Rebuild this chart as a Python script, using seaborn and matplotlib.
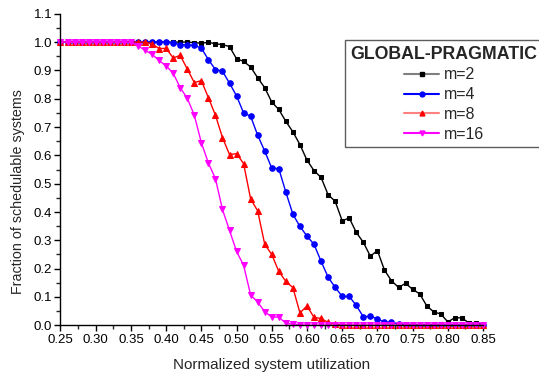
import numpy as np
import pandas as pd
import matplotlib
matplotlib.use("Agg")
import matplotlib.pyplot as plt
from matplotlib.lines import Line2D
from matplotlib.ticker import MultipleLocator, FormatStrFormatter
import seaborn as sns

# ---------------- data ----------------
utilization = np.round(np.linspace(0.25, 0.85, 61), 2)

m2 = [1.0] * 19 + [
    0.998, 0.996, 0.999, 0.994, 0.991, 0.984, 0.941, 0.932, 0.912, 0.874,
    0.839, 0.788, 0.762, 0.720, 0.683, 0.638, 0.583, 0.546, 0.522, 0.461,
    0.438, 0.369, 0.379, 0.328, 0.293, 0.244, 0.264, 0.195, 0.157, 0.134,
    0.148, 0.127, 0.111, 0.069, 0.047, 0.040, 0.012, 0.027, 0.026, 0.008,
    0.009, 0.002]
m4 = [1.0] * 16 + [
    0.997, 0.991, 0.990, 0.988, 0.979, 0.938, 0.903, 0.897, 0.855, 0.810,
    0.750, 0.738, 0.671, 0.615, 0.555, 0.553, 0.470, 0.392, 0.349, 0.315,
    0.286, 0.226, 0.170, 0.134, 0.102, 0.102, 0.070, 0.030, 0.032, 0.023,
    0.011, 0.011, 0.005, 0.002] + [0.0] * 11
m8 = [1.0] * 13 + [
    0.994, 0.977, 0.978, 0.944, 0.953, 0.905, 0.857, 0.864, 0.804, 0.742,
    0.663, 0.603, 0.606, 0.571, 0.446, 0.404, 0.286, 0.250, 0.190, 0.155,
    0.133, 0.044, 0.068, 0.028, 0.024, 0.010, 0.004, 0.002] + [0.0] * 20
m16 = [1.0] * 10 + [
    0.999, 0.987, 0.971, 0.957, 0.935, 0.916, 0.890, 0.839, 0.802, 0.742,
    0.645, 0.573, 0.518, 0.409, 0.335, 0.261, 0.212, 0.107, 0.082, 0.048,
    0.029, 0.029, 0.007, 0.004, 0.001] + [0.0] * 26

series_labels = ["m=2", "m=4", "m=8", "m=16"]
legend_title = "GLOBAL-PRAGMATIC"
x_label = "Normalized system utilization"
y_label = "Fraction of schedulable systems"

df = pd.concat([
    pd.DataFrame({"u": utilization, "frac": vals, "m": lab})
    for vals, lab in zip([m2, m4, m8, m16], series_labels)
], ignore_index=True)

# ---------------- style ----------------
sns.set_style("ticks")
plt.rcParams["font.family"] = ["Liberation Sans", "DejaVu Sans"]

colors = {"m=2": "#000000", "m=4": "#0000FF", "m=8": "#FF0000", "m=16": "#FF00FF"}
legend_line_colors = {"m=2": "#808080", "m=4": "#0000FF", "m=8": "#FF8080", "m=16": "#FF00FF"}
markers = {"m=2": "s", "m=4": "o", "m=8": "^", "m=16": "v"}
msizes = {"m=2": 3.5, "m=4": 4.0, "m=8": 4.6, "m=16": 4.6}

fig = plt.figure(figsize=(5.39, 3.79), dpi=100)
ax = fig.add_axes([0.1122, 0.1417, 0.784, 0.822])

for lab in series_labels:
    sub = df[df["m"] == lab]
    sns.lineplot(data=sub, x="u", y="frac", ax=ax, color=colors[lab],
                 marker=markers[lab], markersize=msizes[lab],
                 markeredgecolor=colors[lab], linewidth=1.0, legend=False,
                 clip_on=False)

ax.set_xlim(0.25, 0.85)
ax.set_ylim(0.0, 1.1)
ax.xaxis.set_major_locator(MultipleLocator(0.05))
ax.xaxis.set_minor_locator(MultipleLocator(0.025))
ax.yaxis.set_major_locator(MultipleLocator(0.1))
ax.yaxis.set_minor_locator(MultipleLocator(0.05))
ax.xaxis.set_major_formatter(FormatStrFormatter("%.2f"))
ax.yaxis.set_major_formatter(FormatStrFormatter("%.1f"))
ax.tick_params(which="major", direction="out", length=4, width=1, labelsize=9.5, colors="black")
ax.tick_params(which="minor", direction="out", length=3, width=1)
ax.tick_params(axis="x", pad=2)
ax.tick_params(axis="y", pad=2)
for s in ["left", "bottom"]:
    ax.spines[s].set_linewidth(1.0)
    ax.spines[s].set_color("black")
sns.despine(ax=ax)

ax.set_xlabel(x_label, fontsize=11, labelpad=9)
ax.set_ylabel(y_label, fontsize=10.3)
ax.yaxis.set_label_coords(-0.084, 0.428)

handles = [Line2D([0], [0], color=legend_line_colors[lab], lw=1.5,
                  marker=markers[lab], markersize=3.5,
                  markerfacecolor=colors[lab], markeredgecolor=colors[lab])
           for lab in series_labels]
leg = fig.legend(handles, series_labels, title=legend_title,
                 loc="upper left", bbox_to_anchor=(345 / 539, 1 - 40 / 379),
                 borderaxespad=0,
                 fontsize=11.5, title_fontproperties={"weight": "bold", "size": 12.8},
                 frameon=True, fancybox=False, edgecolor="#333333",
                 handlelength=2.2, handletextpad=0.3, labelspacing=0.3,
                 borderpad=0.35)
leg.get_frame().set_linewidth(1.0)

fig.savefig("out.png", dpi=100)
